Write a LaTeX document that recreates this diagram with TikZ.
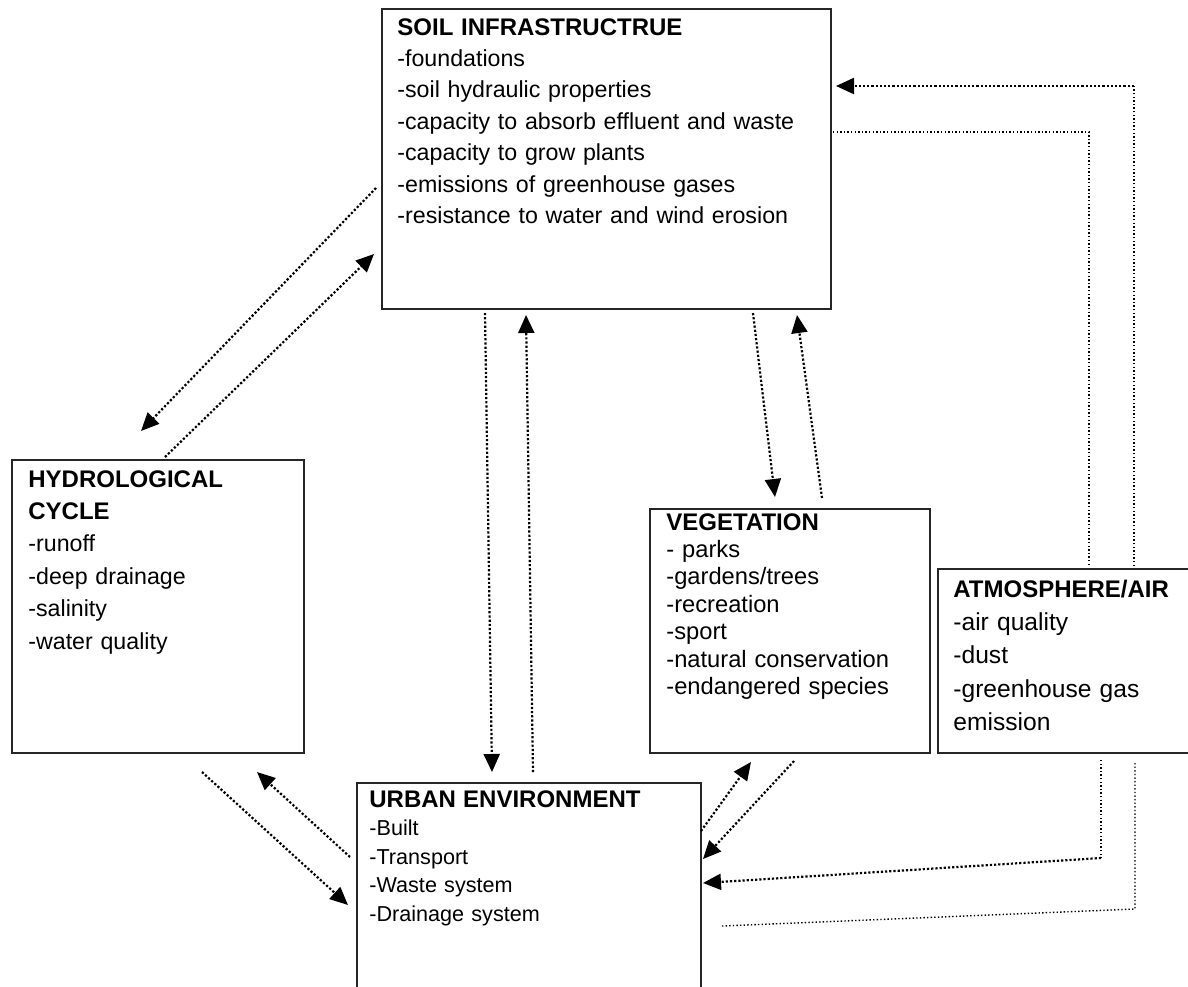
\documentclass[tikz,border=0pt]{standalone}
\usepackage{fontspec}
\setmainfont{Liberation Sans}
\usetikzlibrary{arrows.meta}
\newcommand{\boxhead}[1]{{\fontsize{12}{12}\selectfont\bfseries #1}}
\tikzset{
  box/.style={draw=black!85, line width=1pt, anchor=north west, inner sep=0pt},
  items/.style args={#1/#2}{anchor=base west, align=left, inner sep=0pt, text width=240pt,
    font=\fontsize{#1}{#2}\selectfont},
  flow/.style={line width=1.1pt, dash pattern=on 1.1pt off 1pt,
    -{Triangle[length=9pt,width=8pt]}},
  link/.style={line width=0.7pt, dash pattern=on 0.7pt off 1.1pt}
}
\begin{document}
\begin{tikzpicture}[x=0.5pt, y=-0.5pt]
      \useasboundingbox (0,0) rectangle (1188,986);

      \node[box, minimum width=224.5pt, minimum height=150pt] (soil) at (381,8) {};
      \node[box, minimum width=146pt, minimum height=146.5pt] (hydro) at (11,459) {};
      \node[box, minimum width=140pt, minimum height=122pt] (veg) at (649,508) {};
      \node[box, minimum width=135pt, minimum height=92pt] (atm) at (937,568) {};
      \node[box, minimum width=172pt, minimum height=110pt] (urban) at (356,782) {};

      \node[items=11.6/15.7] (soiltext) at (397,35){\boxhead{SOIL INFRASTRUCTRUE}\\-foundations\\-soil hydraulic properties\\-capacity to absorb effluent and waste\\-capacity to grow plants\\-emissions of greenhouse gases\\-resistance to water and wind erosion};
      \node[items=11.6/16.2] (hydrotext) at (28,487){\boxhead{HYDROLOGICAL}\\\boxhead{CYCLE}\\-runoff\\-deep drainage\\-salinity\\-water quality};
      \node[items=11.85/13.7] (vegtext) at (666,530){\boxhead{VEGETATION}\\- parks\\-gardens/trees\\-recreation\\-sport\\-natural conservation\\-endangered species};
      \node[items=12.3/16.7] (atmtext) at (953,597){\boxhead{ATMOSPHERE/AIR}\\-air quality\\-dust\\-greenhouse gas\\emission};
      \node[items=10.8/14.25] (urbantext) at (369,807){\boxhead{URBAN ENVIRONMENT}\\-Built\\-Transport\\-Waste system\\-Drainage system};

      \coordinate (soilhydroA) at (376,188);
      \coordinate (soilhydroB) at (141,431);
      \coordinate (hydrosoilA) at (165,457);
      \coordinate (hydrosoilB) at (374,254);
      \coordinate (soilurbanA) at (485,313);
      \coordinate (soilurbanB) at (492,772);
      \coordinate (urbansoilA) at (533,772);
      \coordinate (urbansoilB) at (526,315);
      \coordinate (soilvegA) at (753,313);
      \coordinate (soilvegB) at (775,497);
      \coordinate (vegsoilA) at (822,498);
      \coordinate (vegsoilB) at (797,315);
      \coordinate (urbanvegA) at (701,831);
      \coordinate (urbanvegB) at (751,762);
      \coordinate (vegurbanA) at (794,761);
      \coordinate (vegurbanB) at (703,859);
      \coordinate (hydrourbanA) at (202,772);
      \coordinate (hydrourbanB) at (348,905);
      \coordinate (urbanhydroA) at (350,857);
      \coordinate (urbanhydroB) at (257,772);
      \coordinate (atmurbanA) at (1101,760);
      \coordinate (atmurbanB) at (1101,858);
      \coordinate (atmurbanC) at (703,883);
      \coordinate (urbanatmA) at (722,926);
      \coordinate (urbanatmB) at (1135,909);
      \coordinate (urbanatmC) at (1135,763);
      \coordinate (atmsoilA) at (1134,566);
      \coordinate (atmsoilB) at (1134,86);
      \coordinate (atmsoilC) at (836,86);
      \coordinate (soilatmA) at (833,132);
      \coordinate (soilatmB) at (1089,132);
      \coordinate (soilatmC) at (1089,566);

      \draw[flow] (soilhydroA) to (soilhydroB);
      \draw[flow] (hydrosoilA) to (hydrosoilB);
      \draw[flow] (soilurbanA) to (soilurbanB);
      \draw[flow] (urbansoilA) to (urbansoilB);
      \draw[flow] (soilvegA) to (soilvegB);
      \draw[flow] (vegsoilA) to (vegsoilB);
      \draw[flow] (urbanvegA) to (urbanvegB);
      \draw[flow] (vegurbanA) to (vegurbanB);
      \draw[flow] (hydrourbanA) to (hydrourbanB);
      \draw[flow] (urbanhydroA) to (urbanhydroB);
      \draw[link] (atmurbanA) to (atmurbanB);
        \draw[flow] (atmurbanB) to (atmurbanC);
      \draw[link] (urbanatmA) to (urbanatmB) to (urbanatmC);
      \draw[link] (atmsoilA) to (atmsoilB);
        \draw[flow] (atmsoilB) to (atmsoilC);
      \draw[link] (soilatmA) to (soilatmB) to (soilatmC);
\end{tikzpicture}
\end{document}
